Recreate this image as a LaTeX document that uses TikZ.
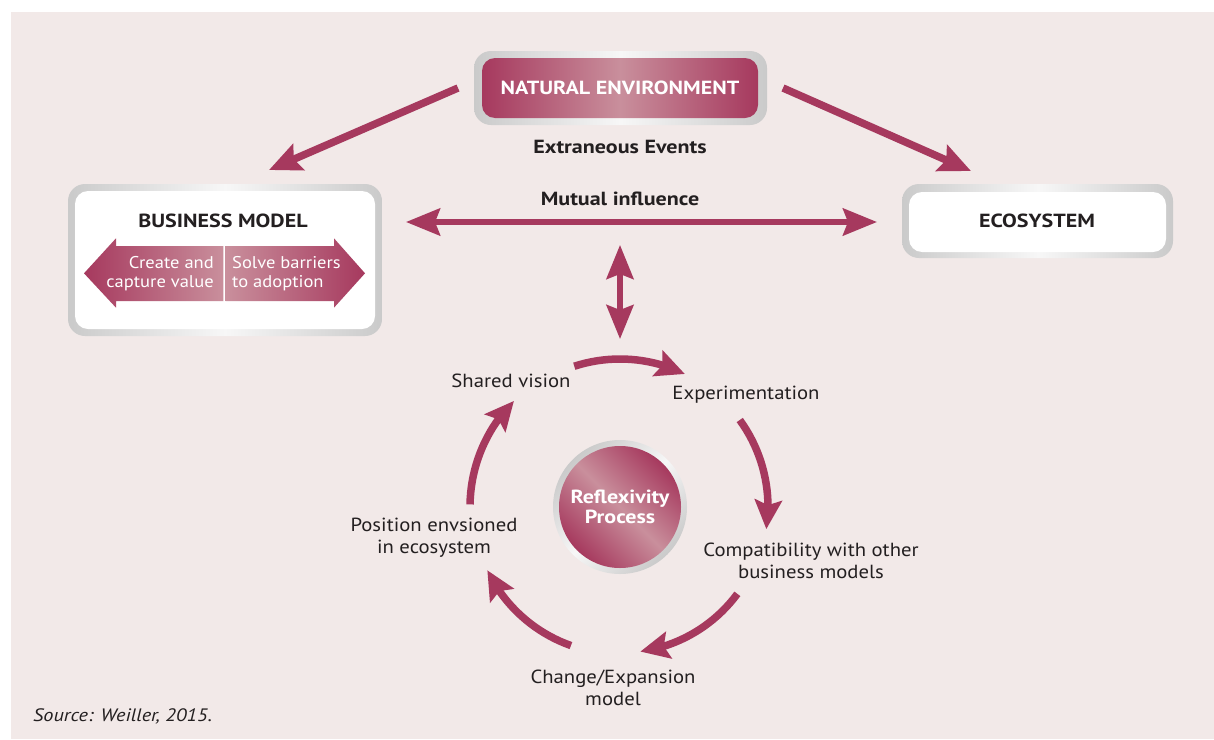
\documentclass[tikz,border=0pt]{standalone}
\usepackage{fontspec}
\setmainfont{PT Sans}[UprightFeatures={FakeStretch=1.09}, BoldFeatures={FakeStretch=1.16}, ItalicFeatures={FakeStretch=1.13}]
\usetikzlibrary{arrows.meta,calc,bending}
\definecolor{bg}{HTML}{F2E9E8}
\definecolor{mag}{HTML}{A6395E}
\definecolor{magl}{HTML}{C98F9C}
\definecolor{ringd}{HTML}{CACACA}
\definecolor{ringl}{HTML}{F7F7F7}
\definecolor{txt}{HTML}{231F20}
\begin{document}
\begin{tikzpicture}[x=1pt,y=1pt,
  ring/.style={rounded corners=17pt, left color=ringd, right color=ringd, middle color=ringl, inner sep=0pt, outer sep=0pt},
  whitebox/.style={rounded corners=13pt, fill=white, inner sep=0pt},
  magbox/.style={rounded corners=13pt, left color=mag, right color=mag, middle color=magl, inner sep=0pt},
  titletext/.style={font=\fontsize{19}{22}\selectfont\bfseries, text=txt, inner sep=0pt},
  cyclelabel/.style={font=\fontsize{19}{22}\selectfont, text=txt, align=center, inner sep=0pt},
  arrowtext/.style={font=\fontsize{17}{19}\selectfont, text=white, inner sep=0pt},
  bigarrow/.style={draw=mag, line width=7.5pt, -{Stealth[length=32pt,width=28pt,inset=5pt]}},
  twoway/.style={draw=mag, line width=6pt, {Stealth[length=34pt,width=27pt,inset=5pt]}-{Stealth[length=34pt,width=27pt,inset=5pt]}},
  cyclearrow/.style={draw=mag, line width=7.5pt, -{Stealth[length=29pt,width=27pt,inset=5pt]}},
]
\useasboundingbox (0,0) rectangle (1214,-739);
\fill[bg] (11,-12) rectangle (1214,-739);

% Natural environment
\node[ring, minimum width=293pt, minimum height=74pt] (nering) at (620.5,-88) {};
\node[magbox, minimum width=276pt, minimum height=60pt, font=\fontsize{19}{22}\selectfont\bfseries, text=white] (ne) at (620,-88) {NATURAL ENVIRONMENT};
\node[titletext] (ext) at (620,-147) {Extraneous Events};

% Business model
\node[ring, minimum width=314pt, minimum height=152pt] (bmring) at (225,-260) {};
\node[whitebox, minimum width=300pt, minimum height=138pt] (bm) at (225,-260) {};
\node[titletext] (bmtitle) at (223,-221) {BUSINESS MODEL};
\shade[left color=mag, right color=magl]
  (84,-273.3) -- (116,-238.3) -- (116,-246) -- (223.3,-246) -- (223.3,-301) -- (116,-301) -- (116,-307.7) -- cycle;
\shade[left color=magl, right color=mag]
  (225.7,-246) -- (334,-246) -- (334,-238.3) -- (365,-273.3) -- (334,-307.7) -- (334,-301) -- (225.7,-301) -- cycle;
\node[arrowtext, align=right, anchor=east] (create) at (214,-273.5) {Create and\\capture value};
\node[arrowtext, align=left, anchor=west] (solve) at (232,-273.5) {Solve barriers\\to adoption};

% Ecosystem
\node[ring, minimum width=271pt, minimum height=74pt] (ecoring) at (1037.5,-221) {};
\node[whitebox, minimum width=257pt, minimum height=60pt] (eco) at (1037.5,-222) {};
\node[titletext] (ecotitle) at (1037,-221) {ECOSYSTEM};

% Mutual influence
\node[titletext] (mutual) at (620,-199) {Mutual influence};
\coordinate (mL) at (406,-222);
\coordinate (mR) at (877,-222);
\draw[twoway] (mL) -- (mR);
\coordinate (vT) at (620,-245);
\coordinate (vB) at (620,-339);
\draw[twoway, line width=5.5pt] (vT) -- (vB);

% Diagonal arrows
\coordinate (dLs) at (458,-88);
\coordinate (dLe) at (269,-170);
\coordinate (dRs) at (783,-88);
\coordinate (dRe) at (971,-171);
\draw[bigarrow] (dLs) -- (dLe);
\draw[bigarrow] (dRs) -- (dRe);

% Reflexivity process
\node[circle, minimum size=134pt, inner sep=0pt, top color=ringd, bottom color=ringd, middle color=ringl, shading angle=45] (rpring) at (620,-507) {};
\node[circle, minimum size=122pt, inner sep=0pt, top color=mag, bottom color=mag, middle color=magl, shading angle=-45,
  font=\fontsize{19}{20}\selectfont\bfseries, text=white, align=center] (rp) at (620,-507) {Reflexivity\\Process};

% Cycle labels
\node[cyclelabel] (shared) at (511,-381) {Shared vision};
\node[cyclelabel] (exper) at (746,-395) {Experimentation};
\node[cyclelabel] (compat) at (811,-561) {Compatibility with other\\business models};
\node[cyclelabel] (change) at (613,-688) {Change/Expansion\\model};
\node[cyclelabel] (position) at (434,-538) {Position envsioned\\in ecosystem};

% Cycle arrows
\draw[cyclearrow] ($(rp.center)+(108:148)$) arc[start angle=108, end angle=64, radius=148];
\draw[cyclearrow] ($(rp.center)+(36:148)$) arc[start angle=36, end angle=-8.6, radius=148];
\draw[cyclearrow] ($(rp.center)+(-36.5:146)$) arc[start angle=-36.5, end angle=-82, radius=146];
\draw[cyclearrow] ($(rp.center)+(-109.5:147)$) arc[start angle=-109.5, end angle=-154.5, radius=147];
\draw[cyclearrow] ($(rp.center)+(179:150)$) arc[start angle=179, end angle=135, radius=150];

% Source
\node[font=\fontsize{18}{20}\selectfont\itshape, text=txt, anchor=west, inner sep=0pt] (source) at (33,-716) {Source: Weiller, 2015.};
\end{tikzpicture}
\end{document}
